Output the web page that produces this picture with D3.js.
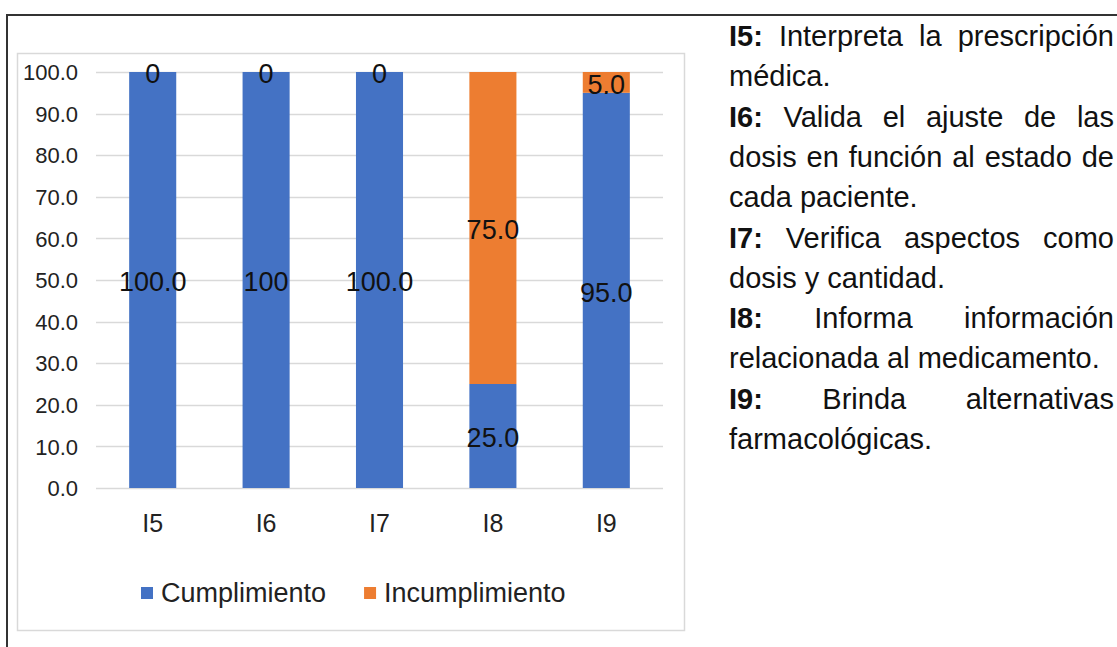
<!DOCTYPE html>
<html><head><meta charset="utf-8">
<script src="https://cdn.jsdelivr.net/npm/d3@7"></script>
<style>
body{margin:0;background:#fff;}
svg{display:block;font-family:"Liberation Sans",Arial,sans-serif;}
</style>
</head><body>
<svg id="c" width="1117" height="647"></svg>
<script>
// ---- data ----
const categories = ["I5", "I6", "I7", "I8", "I9"];
const cumplimiento = [100, 100, 100, 25, 95];
const incumplimiento = [0, 0, 0, 75, 5];
const cumplimientoLabels = ["100.0", "100", "100.0", "25.0", "95.0"];
const incumplimientoLabels = ["0", "0", "0", "75.0", "5.0"];
const yTicks = [0, 10, 20, 30, 40, 50, 60, 70, 80, 90, 100];
const seriesNames = ["Cumplimiento", "Incumplimiento"];
const seriesColors = ["#4472C4", "#ED7D31"];
// side notes: [bold key, lines...]
const notes = [
  ["I5:", ["Interpreta la prescripción", "médica."]],
  ["I6:", ["Valida el ajuste de las", "dosis en función al estado de", "cada paciente."]],
  ["I7:", ["Verifica aspectos como", "dosis y cantidad."]],
  ["I8:", ["Informa información", "relacionada al medicamento."]],
  ["I9:", ["Brinda alternativas", "farmacológicas."]]
];

// ---- layout ----
const svg = d3.select("#c");
const plot = {left: 96, right: 663, top: 72, bottom: 488};

// outer frame lines
svg.append("path").attr("d", "M7,647V15H1117")
  .attr("fill", "none").attr("stroke", "#333").attr("stroke-width", 2);

// chart area border
svg.append("rect").attr("x", 17.5).attr("y", 53.5).attr("width", 667).attr("height", 577)
  .attr("fill", "#fff").attr("stroke", "#d9d9d9").attr("stroke-width", 1.5);

const x = d3.scaleBand().domain(categories).range([plot.left, plot.right])
  .paddingInner(0.585).paddingOuter(0.2925);
const y = d3.scaleLinear().domain([0, 100]).range([plot.bottom, plot.top]);

// gridlines
svg.append("g").selectAll("line").data(yTicks).join("line")
  .attr("x1", plot.left).attr("x2", plot.right)
  .attr("y1", d => Math.round(y(d)) + 0.5).attr("y2", d => Math.round(y(d)) + 0.5)
  .attr("stroke", "#d9d9d9").attr("stroke-width", 1.5);

// y axis labels
const yAxis = d3.axisLeft(y).tickValues(yTicks).tickFormat(d3.format(".1f")).tickSize(0).tickPadding(0);
const yg = svg.append("g").attr("transform", "translate(78,0)").call(yAxis);
yg.select(".domain").remove();
yg.selectAll("text").attr("font-size", 22).attr("fill", "#222")
  .attr("font-family", "Liberation Sans, Arial, sans-serif").attr("dy", "0.35em");

// x axis labels
const xAxis = d3.axisBottom(x).tickSize(0).tickPadding(0);
const xg = svg.append("g").attr("transform", "translate(0,514)").call(xAxis);
xg.select(".domain").remove();
xg.selectAll("text").attr("font-size", 25).attr("fill", "#222")
  .attr("font-family", "Liberation Sans, Arial, sans-serif").attr("dy", "0.7em");

// stacked bars
const rows = categories.map((c, i) => ({cat: c, Cumplimiento: cumplimiento[i], Incumplimiento: incumplimiento[i]}));
const stack = d3.stack().keys(seriesNames)(rows);
const labelSets = [cumplimientoLabels, incumplimientoLabels];

stack.forEach((layer, si) => {
  svg.append("g").selectAll("rect").data(layer).join("rect")
    .attr("x", d => x(d.data.cat)).attr("width", x.bandwidth())
    .attr("y", d => y(d[1])).attr("height", d => y(d[0]) - y(d[1]))
    .attr("fill", seriesColors[si]);
});
stack.forEach((layer, si) => {
  svg.append("g").selectAll("text").data(layer).join("text")
    .attr("x", d => x(d.data.cat) + x.bandwidth() / 2)
    .attr("y", d => (y(d[0]) + y(d[1])) / 2 + 2)
    .attr("dy", "0.35em")
    .attr("text-anchor", "middle").attr("font-size", 27).attr("fill", "#111")
    .text((d, i) => labelSets[si][i]);
});

// legend
const lg = svg.append("g").attr("transform", "translate(141,593)");
let lx = 0;
seriesNames.forEach((name, i) => {
  lg.append("rect").attr("x", lx).attr("y", -6).attr("width", 12).attr("height", 12).attr("fill", seriesColors[i]);
  const t = lg.append("text").attr("x", lx + 20).attr("y", 0).attr("dy", "0.35em")
    .attr("font-size", 27).attr("fill", "#222").text(name);
  lx += 20 + t.node().getComputedTextLength() + 38;
});

// side notes (justified)
const tx0 = 729, tx1 = 1114, fs = 29;
let lineIdx = 0;
const baseline0 = 46, lineH = 40.3;
const ng = svg.append("g").attr("font-size", fs).attr("fill", "#111");
notes.forEach(([key, lines]) => {
  lines.forEach((ln, li) => {
    const yy = baseline0 + lineH * lineIdx;
    const words = [];
    if (li === 0) words.push({t: key, bold: true});
    ln.split(" ").forEach(w => words.push({t: w, bold: false}));
    const nodes = words.map(w => {
      const n = ng.append("text").attr("y", yy).attr("font-weight", w.bold ? "bold" : "normal").text(w.t);
      return {n, w: n.node().getComputedTextLength()};
    });
    const total = d3.sum(nodes, d => d.w);
    const isLast = li === lines.length - 1;
    const spaceW = fs * 0.278;
    const gap = (isLast || nodes.length < 2) ? spaceW : (tx1 - tx0 - total) / (nodes.length - 1);
    let cx = tx0;
    nodes.forEach(d => { d.n.attr("x", cx); cx += d.w + gap; });
    lineIdx++;
  });
});
</script>
</body></html>
